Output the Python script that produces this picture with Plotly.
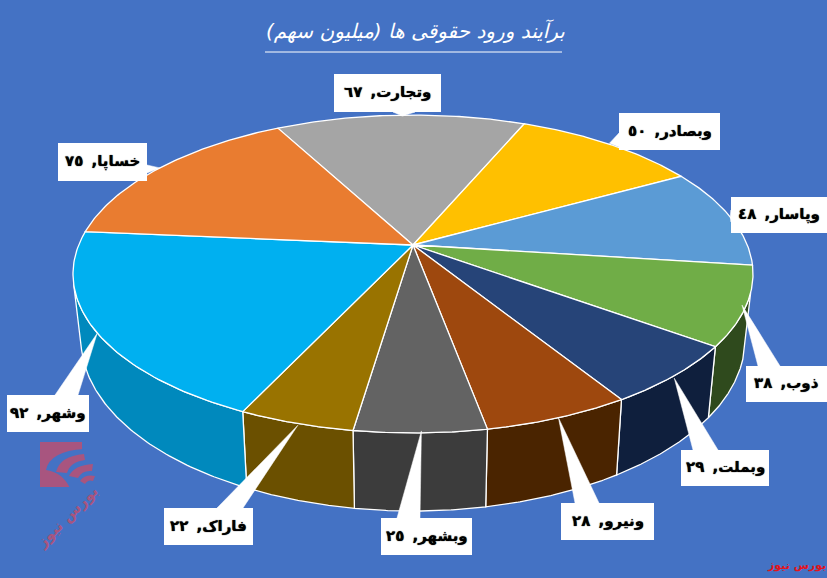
import numpy as np
import plotly.graph_objects as go

names = ["وتجارت", "وبصادر", "وپاسار", "ذوب", "وبملت", "ونیرو", "وبشهر", "فاراک", "وشهر", "خساپا"]
values = [67, 50, 48, 38, 29, 28, 25, 22, 92, 75]
digits = ["٦٧", "٥٠", "٤٨", "۳۸", "۲۹", "۲۸", "۲٥", "۲۲", "۹۲", "۷٥"]
top_colors = ["#A5A5A5", "#FFC000", "#5B9BD5", "#70AD47", "#264478", "#9E480E", "#636363", "#997300", "#00B0F0", "#E97C30"]
wall_colors = ["#636363", "#997300", "#376092", "#2F4A1D", "#0F1F3D", "#4A2400", "#3C3C3C", "#6B5000", "#0089BD", "#8F4B1D"]

title = "برآیند ورود حقوقی ها (میلیون سهم)"
source = "بورس نیوز"

# label boxes (x0, y0, x1, y1), pointer base and tip nudges, in page pixels
boxes = [(334, 74, 441, 112), (619, 113, 720, 150), (731, 197, 827, 233), (746, 366, 827, 402),
         (681, 450, 769, 486), (561, 503, 654, 540), (381, 518, 472, 555), (164, 508, 253, 545),
         (7, 395, 89, 432), (58, 143, 147, 181)]
bases = [((393, 112), (415, 112)), ((619, 133), (619, 147)), ((731, 210), (731, 222)), ((758, 366), (780, 366)),
         ((693, 450), (718, 450)), ((575, 503), (599, 503)), ((397, 518), (420, 518)), ((217, 508), (243, 508)),
         ((55, 395), (78, 395)), ((147, 165), (147, 173))]
nudges = [(2, 1), (0, -1), (0, 0), (-4, -1), (-1, 3), (0, 0), (1, -2), (2, 2), (3, 4), (0, 0)]

CX, CY, A, B, K = 413, 245, 334.3, 153.7, 0.1824
A2, B2, D = 326.5, 166, 63
START = -28.0
WALL_FROM, WALL_TO = 107, 256  # part of the rim that faces the viewer


def top_xy(deg):
    r = np.radians(deg)
    den = 1 + K * np.cos(r)
    return CX + A * np.sin(r) / den, CY - B * np.cos(r) / den


def low_xy(deg):
    r = np.radians(deg)
    den = 1 + K * np.cos(r)
    return CX + A2 * np.sin(r) / den, CY + D - B2 * np.cos(r) / den


edges = START + np.concatenate([[0], np.cumsum(values)]) * 360 / sum(values)
fig = go.Figure()

for i in range(len(values)):
    lo, hi = max(edges[i], WALL_FROM), min(edges[i + 1], WALL_TO)
    if lo >= hi:
        continue
    a = np.linspace(lo, hi, 80)
    tx, ty = top_xy(a)
    lx, ly = low_xy(a[::-1])
    fig.add_trace(go.Scatter(x=np.r_[tx, lx, tx[0]], y=np.r_[ty, ly, ty[0]], mode="lines", fill="toself",
                             fillcolor=wall_colors[i], line=dict(color="white", width=1.3), hoverinfo="skip"))
for i in range(len(values)):
    a = np.linspace(edges[i], edges[i + 1], 80)
    tx, ty = top_xy(a)
    fig.add_trace(go.Scatter(x=np.r_[CX, tx, CX], y=np.r_[CY, ty, CY], mode="lines", fill="toself",
                             fillcolor=top_colors[i], line=dict(color="white", width=1.3), hoverinfo="skip"))

# pointers and label boxes
for i in range(len(values)):
    tx, ty = top_xy((edges[i] + edges[i + 1]) / 2)
    tx, ty = tx + nudges[i][0], ty + nudges[i][1]
    (bx0, by0), (bx1, by1) = bases[i]
    fig.add_trace(go.Scatter(x=[tx, bx0, bx1, tx], y=[ty, by0, by1, ty], mode="lines", fill="toself",
                             fillcolor="white", line=dict(color="white", width=0.5), hoverinfo="skip"))

shapes = []
annotations = []
for i in range(len(values)):
    x0, y0, x1, y1 = boxes[i]
    shapes.append(dict(type="rect", x0=x0, y0=y0, x1=x1, y1=y1, fillcolor="white", line_width=0, layer="above"))
    annotations.append(dict(x=(x0 + x1) / 2, y=(y0 + y1) / 2 - 1,
                            text=f"<b>{names[i]},\u00a0\u2009{digits[i]}</b>", showarrow=False,
                            font=dict(family="DejaVu Sans", size=15, color="black",
                                      shadow="0 0 1px #000")))

# title rule
shapes.append(dict(type="line", x0=265, x1=562, y0=52, y1=52, line=dict(color="white", width=1)))
annotations.append(dict(x=415, y=31, text=f"<i>{title}</i>", showarrow=False,
                        font=dict(family="DejaVu Sans", size=20, color="white")))
annotations.append(dict(x=796, y=565, text=f"<b>{source}</b>", showarrow=False,
                        font=dict(family="DejaVu Sans", size=11, color="#E3141C")))

# watermark
mark = "#A8557F"
blue = "#4472C4"
shapes.append(dict(type="rect", x0=40, y0=442, x1=82, y1=487, fillcolor=mark, line_width=0))
shapes.append(dict(type="path", path="M 46 470 Q 50 451 84 449 L 84 488 L 70 488 Q 62 472 46 470 Z", fillcolor=blue, line_width=0))
shapes.append(dict(type="path", path="M 56 472 Q 60 456 84 454 L 85 460 Q 70 462 67 473 Z", fillcolor=mark, line_width=0))
shapes.append(dict(type="path", path="M 69 476 Q 74 465 93 464 L 92 471 Q 82 470 78 478 Z", fillcolor=mark, line_width=0))
shapes.append(dict(type="path", path="M 80 481 Q 85 474 95 476 L 93 481 Q 88 479 85 484 Z", fillcolor=mark, line_width=0))
annotations.append(dict(x=67, y=517, text=f"<b>{source}</b>", showarrow=False, textangle=-45,
                        font=dict(family="DejaVu Sans", size=15, color=mark)))

fig.update_layout(width=827, height=578, margin=dict(l=0, r=0, t=0, b=0), showlegend=False,
                  paper_bgcolor="#4472C4", plot_bgcolor="#4472C4", shapes=shapes, annotations=annotations,
                  xaxis=dict(range=[0, 827], visible=False, fixedrange=True),
                  yaxis=dict(range=[578, 0], visible=False, fixedrange=True))
fig.write_html("out.html", config=dict(displayModeBar=False),
               post_script="document.body.style.margin='0';document.body.style.background='#4472C4';")
